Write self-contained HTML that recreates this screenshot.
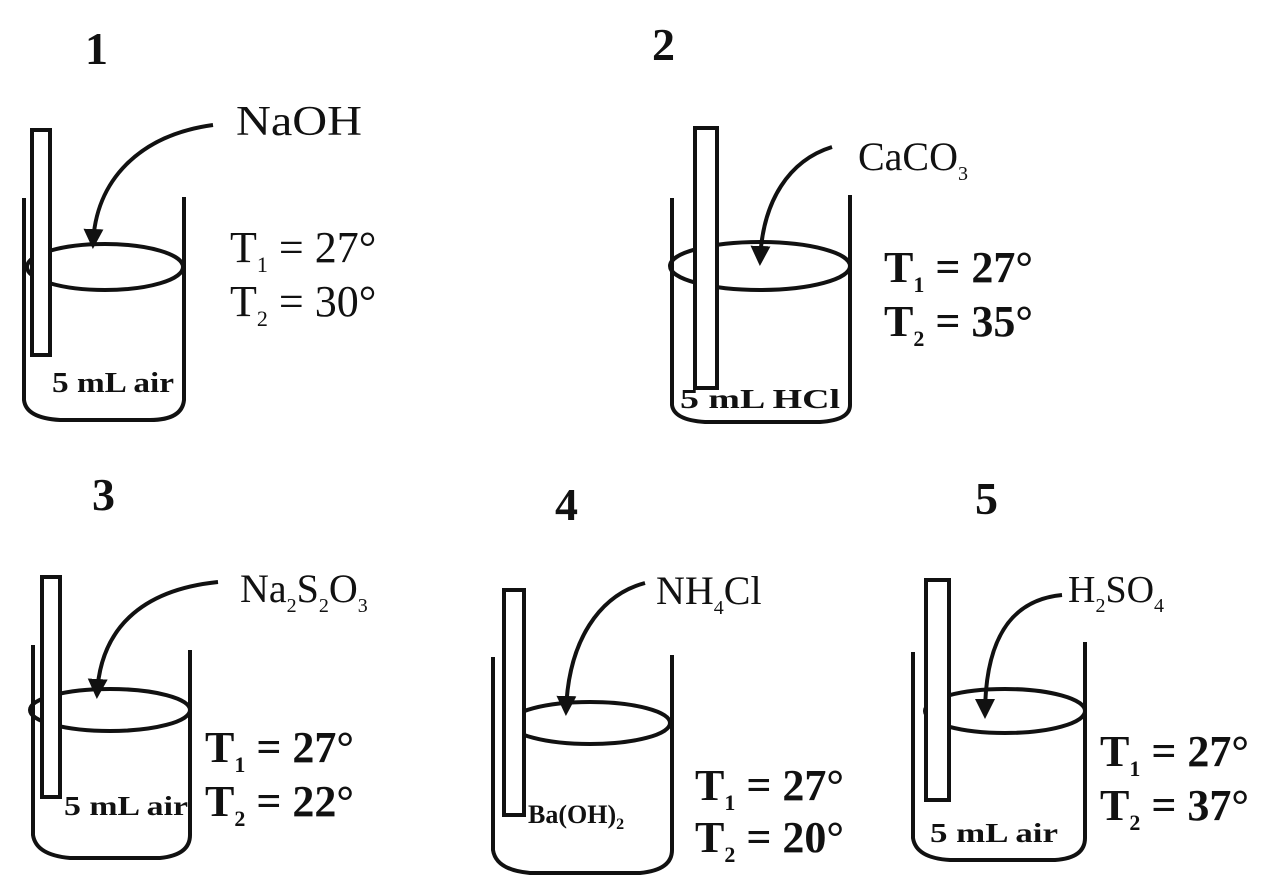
<!DOCTYPE html>
<html><head><meta charset="utf-8"><style>
html,body{margin:0;padding:0;background:#fff;width:1270px;height:895px;overflow:hidden}
svg{display:block}
text{font-family:"Liberation Serif",serif;fill:#111}
.b{font-weight:bold}
</style></head><body>
<svg width="1270" height="895" viewBox="0 0 1270 895" xmlns="http://www.w3.org/2000/svg">
<defs>
<marker id="ar" viewBox="0 0 10 10" refX="8" refY="5" markerWidth="5" markerHeight="5" orient="auto"><path d="M0,0 L10,5 L0,10 z" fill="#111"/></marker>
</defs>
<g stroke="#111" stroke-width="4" fill="none">
<path d="M24,198 V400 Q26,418 60,420 H150 Q182,420 184,400 V197"/>
<ellipse cx="105" cy="267" rx="78" ry="23"/>
<rect x="32" y="130" width="18" height="225" fill="#fff"/>
<path d="M213,125 C140,135 95,180 93,245" marker-end="url(#ar)"/>
<path d="M672,198 V405 Q674,420 705,422 H820 Q850,420 850,405 V195"/>
<ellipse cx="760" cy="266" rx="90" ry="24"/>
<rect x="695" y="128" width="22" height="260" fill="#fff"/>
<path d="M832,147 C790,160 762,200 760,262" marker-end="url(#ar)"/>
<path d="M33,645 V835 Q36,855 70,858 H160 Q190,855 190,835 V650"/>
<ellipse cx="110" cy="710" rx="80" ry="21"/>
<rect x="42" y="577" width="18" height="220" fill="#fff"/>
<path d="M218,582 C140,590 100,630 97,695" marker-end="url(#ar)"/>
<path d="M493,657 V850 Q496,870 530,873 H640 Q672,870 672,850 V655"/>
<ellipse cx="590" cy="723" rx="80" ry="21"/>
<rect x="504" y="590" width="20" height="225" fill="#fff"/>
<path d="M645,583 C600,595 568,640 566,712" marker-end="url(#ar)"/>
<path d="M913,652 V838 Q916,858 950,860 H1055 Q1085,858 1085,838 V642"/>
<ellipse cx="1005" cy="711" rx="80" ry="22"/>
<rect x="926" y="580" width="23" height="220" fill="#fff"/>
<path d="M1062,595 C1010,600 985,640 985,715" marker-end="url(#ar)"/>
</g>
<g class="b" font-size="46">
<text x="85" y="64">1</text>
<text x="652" y="60">2</text>
<text x="92" y="510">3</text>
<text x="555" y="520">4</text>
<text x="975" y="514">5</text>
</g>
<text x="236" y="135" font-size="42" textLength="126" lengthAdjust="spacingAndGlyphs">NaOH</text>
<text x="230" y="262" font-size="44">T<tspan font-size="22" dy="10">1</tspan><tspan dy="-10"> = 27°</tspan></text>
<text x="230" y="316" font-size="44">T<tspan font-size="22" dy="10">2</tspan><tspan dy="-10"> = 30°</tspan></text>
<text x="52" y="392" font-size="28" class="b" textLength="122" lengthAdjust="spacingAndGlyphs">5 mL air</text>

<text x="858" y="170" font-size="40">CaCO<tspan font-size="20" dy="10">3</tspan></text>
<text class="b" x="884" y="282" font-size="44">T<tspan font-size="22" dy="10">1</tspan><tspan dy="-10"> = 27°</tspan></text>
<text class="b" x="884" y="336" font-size="44">T<tspan font-size="22" dy="10">2</tspan><tspan dy="-10"> = 35°</tspan></text>
<text class="b" x="680" y="408" font-size="27" textLength="160" lengthAdjust="spacingAndGlyphs">5 mL HCl</text>

<text x="240" y="602" font-size="40">Na<tspan font-size="20" dy="10">2</tspan><tspan dy="-10">S</tspan><tspan font-size="20" dy="10">2</tspan><tspan dy="-10">O</tspan><tspan font-size="20" dy="10">3</tspan></text>
<text class="b" x="205" y="762" font-size="44">T<tspan font-size="22" dy="10">1</tspan><tspan dy="-10"> = 27°</tspan></text>
<text class="b" x="205" y="816" font-size="44">T<tspan font-size="22" dy="10">2</tspan><tspan dy="-10"> = 22°</tspan></text>
<text class="b" x="64" y="815" font-size="27" textLength="124" lengthAdjust="spacingAndGlyphs">5 mL air</text>

<text x="656" y="604" font-size="40">NH<tspan font-size="20" dy="10">4</tspan><tspan dy="-10">Cl</tspan></text>
<text class="b" x="695" y="800" font-size="44">T<tspan font-size="22" dy="10">1</tspan><tspan dy="-10"> = 27°</tspan></text>
<text class="b" x="695" y="852" font-size="44">T<tspan font-size="22" dy="10">2</tspan><tspan dy="-10"> = 20°</tspan></text>
<text class="b" x="528" y="823" font-size="26">Ba(OH)<tspan font-size="16" dy="6">2</tspan></text>

<text x="1068" y="602" font-size="38">H<tspan font-size="20" dy="10">2</tspan><tspan dy="-10">SO</tspan><tspan font-size="20" dy="10">4</tspan></text>
<text class="b" x="1100" y="766" font-size="44">T<tspan font-size="22" dy="10">1</tspan><tspan dy="-10"> = 27°</tspan></text>
<text class="b" x="1100" y="820" font-size="44">T<tspan font-size="22" dy="10">2</tspan><tspan dy="-10"> = 37°</tspan></text>
<text class="b" x="930" y="842" font-size="27" textLength="128" lengthAdjust="spacingAndGlyphs">5 mL air</text>
</svg>
</body></html>
